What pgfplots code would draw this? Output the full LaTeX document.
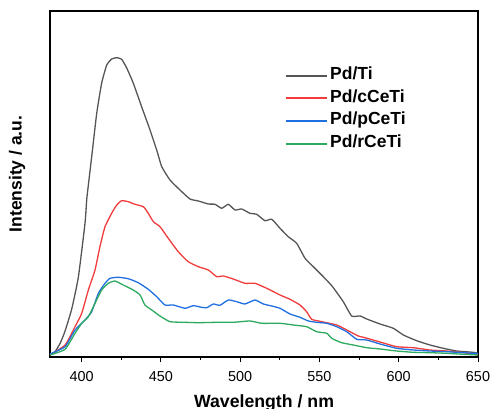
\documentclass[border=0pt]{standalone}
\usepackage{pgfplots}
\pgfplotsset{compat=1.18}
\usepackage{fontspec}
\setmainfont{Liberation Sans}
\definecolor{cTi}{HTML}{555555}
\definecolor{cC}{HTML}{F03C3C}
\definecolor{cP}{HTML}{1F6FE0}
\definecolor{cR}{HTML}{2EAA60}
\begin{document}
\begin{tikzpicture}[x=1pt,y=1pt]
\useasboundingbox (0,0) rectangle (492,409);
\begin{axis}[
  at={(50pt,52pt)}, anchor=south west,
  width=428pt, height=346pt, scale only axis,
  xmin=380, xmax=650, ymin=0, ymax=346,
  xtick={400,450,...,650}, minor x tick num=1,
  ytick=\empty,
  tick align=outside, xtick pos=bottom,
  major tick length=5pt, minor tick length=3pt,
  every tick/.style={black, line width=1pt},
  axis line style={line width=1.3pt},
  /pgf/number format/assume math mode=true,
  /pgf/number format/1000 sep={},
  xticklabel style={font=\fontsize{14.4}{17}\selectfont, yshift=-6pt},
  xlabel={Wavelength / nm},
  ylabel={Intensity / a.u.},
  xlabel style={font=\fontsize{17.7}{21}\selectfont\bfseries, at={(axis description cs:0.5,-0.147)}, anchor=base},
  ylabel style={font=\fontsize{17.5}{21}\selectfont\bfseries, at={(axis description cs:-0.077,0.529)}, anchor=center},
  legend cell align=left,
  legend image code/.code={\draw[#1, line width=2pt] (0pt,0pt) -- (41pt,0pt);},
  legend style={draw=none, fill=none, inner sep=0pt, at={(axis description cs:0.549,0.843)}, anchor=north west,
    font=\fontsize{17.5}{21}\selectfont\bfseries, row sep=2.7pt,
    nodes={text height=12pt, text depth=4pt, inner sep=2pt}},
]
\addplot[cTi, line width=1.3pt, smooth, tension=0.3] coordinates {
(380,2) (383.2,5.3) (386.5,14) (389.5,26) (393.7,48) (397.9,80) (402.1,134) (403.2,158) (404.8,180) (406.3,200.3) (409.5,244) (412.6,274) (415.8,292) (418.9,298) (422.1,299.3) (425.2,297.7) (428.4,289) (432.5,274) (437.8,250.3) (443.1,227) (447.3,207) (450.5,190.3) (455.7,177) (462.0,167) (468.3,158) (473.6,156) (479.9,153) (484.1,152.7) (488.3,148.7) (492.5,152.7) (496.7,147) (500.9,148) (506.2,143.7) (510.4,142.7) (515.6,136.3) (519.9,137.7) (525.1,128.7) (530.3,120.3) (535.6,113.7) (540.9,98.7) (546.1,90.3) (552.4,80.3) (557.9,71) (565.0,55.3) (570.3,41) (575.6,41) (579.8,38) (588.2,33) (596.6,28.7) (602.9,22) (611.3,16.3) (619.7,12) (628.1,8.7) (636.6,6) (647.0,4.7) (650,3.7)
};
\addlegendentry{Pd/Ti}
\addplot[cC, line width=1.3pt, smooth, tension=0.3] coordinates {
(380,2) (389.5,12) (395.8,30.3) (400,43.7) (404.2,67) (408.4,87) (411.5,110.3) (414.7,130.3) (418.9,143.7) (422.1,152) (425.2,156.3) (429.4,155.3) (433.6,152.7) (438.9,150.3) (442.0,143.7) (445.2,135.3) (449.4,130.3) (454.6,118.7) (460.9,105.3) (467.2,95.3) (473.6,90.3) (479.9,87) (485.2,80.3) (489.3,81) (495.6,78) (503.0,73.7) (509.3,73.7) (516.7,68.7) (525.1,62) (531.4,57.7) (537.7,52) (541.9,45.3) (545.1,37.7) (550.3,35.7) (560.9,32) (567.2,27) (574.5,21) (578.7,19.3) (588.2,15) (598.7,10.3) (609.2,9.3) (619.7,7) (630.3,6) (640.7,4.3) (649.2,2.7) (650,2.5)
};
\addlegendentry{Pd/cCeTi}
\addplot[cP, line width=1.3pt, smooth, tension=0.3] coordinates {
(380,3) (389.5,10.3) (395.8,27) (402.1,37) (406.3,45.3) (410.5,63.7) (414.7,73.7) (417.9,78.7) (423.1,79.7) (429.4,78.3) (435.7,74.3) (442.0,67.7) (447.3,60.3) (452.5,52) (457.8,52) (465.2,48.7) (470.4,51.3) (475.7,49.7) (478.9,49.3) (483.0,53) (487.2,51.7) (492.5,57) (497.8,55.3) (503.0,53) (509.3,57) (514.6,53) (519.9,51) (525.1,48.7) (531.4,43) (537.7,39.7) (543.0,36) (548.2,34.7) (554.6,33.7) (560.9,30.3) (567.2,25.3) (573.5,17.7) (579.8,17) (588.2,13) (598.7,8.7) (609.2,7) (619.7,6) (630.3,5.3) (640.7,4.3) (650,3.5)
};
\addlegendentry{Pd/pCeTi}
\addplot[cR, line width=1.3pt, smooth, tension=0.3] coordinates {
(380,2) (389.5,7.7) (395.8,23.7) (400,33.7) (404.2,40.3) (408.4,53.7) (412.6,67) (416.8,73.7) (421.0,76) (426.2,72) (432.5,67) (436.8,62) (439.9,52) (444.2,47) (449.4,41) (455.7,35.3) (465.2,34.7) (473.6,34.3) (485.2,34.7) (495.6,34.7) (506.2,36) (513.5,33.7) (525.1,33.7) (533.5,32) (541.9,30.3) (548.2,25.3) (554.6,23.7) (557.9,18.5) (564.0,14.3) (571.3,12) (579.8,9.3) (588.2,8) (598.7,6) (609.2,4.7) (619.7,4.3) (630.3,3.7) (640.7,2.7) (650,2)
};
\addlegendentry{Pd/rCeTi}
\end{axis}
\end{tikzpicture}
\end{document}
